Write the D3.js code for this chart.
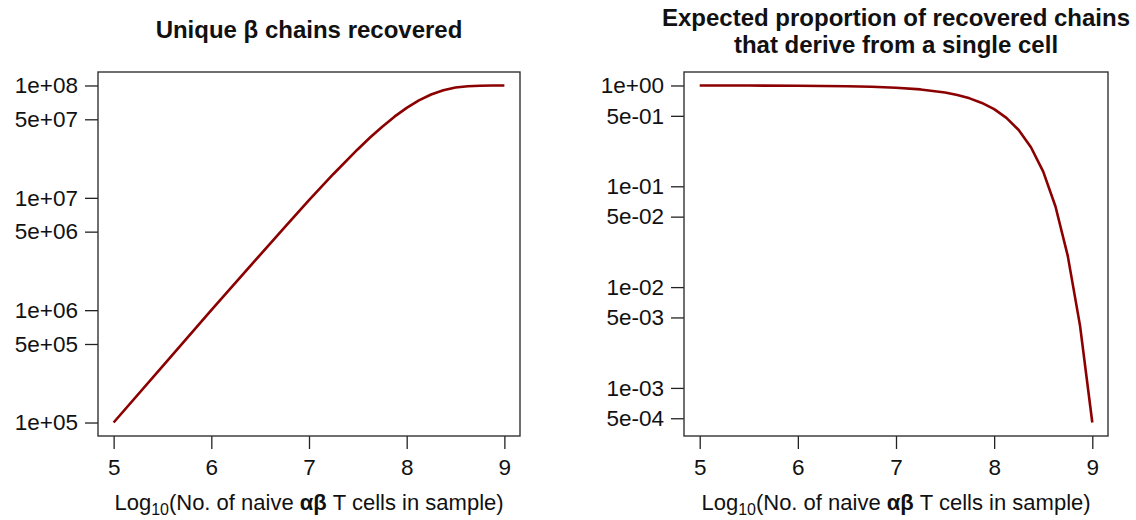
<!DOCTYPE html>
<html>
<head>
<meta charset="utf-8">
<script src="https://cdn.jsdelivr.net/npm/d3@7"></script>
<style>
  body { margin: 0; background: #fff; }
  svg text { font-family: "Liberation Sans", Arial, sans-serif; fill: #111; }
</style>
</head>
<body>
<svg id="chart" width="1136" height="520"></svg>
<script>
// x positions (log10 of number of naive ab T cells)
const logCells = [5, 5.5, 6, 6.5, 6.75, 7, 7.25, 7.5, 7.625, 7.75, 7.875, 8, 8.125, 8.25, 8.375, 8.5, 8.625, 8.75, 8.875, 9];

// left panel: unique beta chains recovered
const uniqueBeta = [1e5, 3.16e5, 1e6, 3.11e6, 5.47e6, 9.52e6, 1.63e7, 2.71e7, 3.44e7, 4.3e7, 5.28e7, 6.32e7, 7.37e7, 8.31e7, 9.07e7, 9.58e7, 9.85e7, 9.96e7, 9.99e7, 1e8];

// right panel: expected proportion of recovered chains from a single cell
const singleCellProp = [0.9995, 0.998, 0.995, 0.984, 0.972, 0.951, 0.914, 0.851, 0.804, 0.745, 0.6715, 0.582, 0.477, 0.362, 0.244, 0.140, 0.0631, 0.0204, 0.00415, 0.000454];

const xTicks = [5, 6, 7, 8, 9];
const leftYTicks = [1e5, 5e5, 1e6, 5e6, 1e7, 5e7, 1e8];
const rightYTicks = [5e-4, 1e-3, 5e-3, 1e-2, 5e-2, 1e-1, 5e-1, 1];

const leftTitle = ["Unique \u03b2 chains recovered"];
const rightTitle = ["Expected proportion of recovered chains", "that derive from a single cell"];

const svg = d3.select("#chart");

// R style "1e+08" / "5e-04" labels
function sciLabel(v) {
  const e = Math.floor(Math.log10(v) + 1e-9);
  const m = Math.round(v / Math.pow(10, e));
  const sign = e < 0 ? "-" : "+";
  return m + "e" + sign + String(Math.abs(e)).padStart(2, "0");
}

function drawPanel(opt) {
  const x = d3.scaleLinear()
    .domain([4.84, 9.16])
    .range([opt.left, opt.right]);

  const y = d3.scaleLog()
    .domain(opt.yDomain)
    .range([opt.bottom, opt.top]);

  const g = svg.append("g");

  // title
  const cx = (opt.left + opt.right) / 2;
  g.selectAll(".title")
    .data(opt.title)
    .enter()
    .append("text")
    .attr("x", cx)
    .attr("y", (d, i) => opt.titleY + i * 27)
    .attr("text-anchor", "middle")
    .style("font-size", "24px")
    .style("font-weight", "bold")
    .text(d => d);

  // x axis
  const xAxis = g.append("g")
    .attr("transform", `translate(0, ${opt.bottom})`)
    .call(d3.axisBottom(x).tickValues(xTicks).tickSize(13).tickPadding(10).tickFormat(d3.format("d")));
  xAxis.select(".domain").remove();
  xAxis.selectAll("line").attr("stroke", "#222").attr("stroke-width", 1.3);
  xAxis.selectAll("text").style("font-size", "22.5px").attr("fill", "#111");

  // y axis
  const yAxis = g.append("g")
    .attr("transform", `translate(${opt.left}, 0)`)
    .call(d3.axisLeft(y).tickValues(opt.yTicks).tickSize(13).tickPadding(7).tickFormat(sciLabel));
  yAxis.select(".domain").remove();
  yAxis.selectAll("line").attr("stroke", "#222").attr("stroke-width", 1.3);
  yAxis.selectAll("text").style("font-size", "22.5px").attr("fill", "#111");

  // x label with subscript
  const xl = g.append("text")
    .attr("x", cx)
    .attr("y", 510)
    .attr("text-anchor", "middle")
    .style("font-size", "22px");
  xl.append("tspan").text("Log");
  xl.append("tspan").attr("dy", 5).style("font-size", "16px").text("10");
  xl.append("tspan").attr("dy", -5).text("(No. of naive ");
  xl.append("tspan").style("font-weight", "bold").text("\u03b1\u03b2");
  xl.append("tspan").text(" T cells in sample)");

  // line
  const line = d3.line()
    .x((d, i) => x(logCells[i]))
    .y(d => y(d));

  g.append("path")
    .datum(opt.values)
    .attr("fill", "none")
    .attr("stroke", "#8b0000")
    .attr("stroke-width", 2.6)
    .attr("stroke-linejoin", "round")
    .attr("d", line);

  // box
  g.append("rect")
    .attr("x", opt.left)
    .attr("y", opt.top)
    .attr("width", opt.right - opt.left)
    .attr("height", opt.bottom - opt.top)
    .attr("fill", "none")
    .attr("stroke", "#333")
    .attr("stroke-width", 1.4);
}

drawPanel({
  left: 98, right: 520, top: 72, bottom: 436,
  yDomain: [Math.pow(10, 4.88), Math.pow(10, 8.12)],
  yTicks: leftYTicks,
  values: uniqueBeta,
  title: leftTitle,
  titleY: 38
});

drawPanel({
  left: 684, right: 1108, top: 72, bottom: 436,
  yDomain: [Math.pow(10, -3.477), Math.pow(10, 0.1337)],
  yTicks: rightYTicks,
  values: singleCellProp,
  title: rightTitle,
  titleY: 26
});
</script>
</body>
</html>
